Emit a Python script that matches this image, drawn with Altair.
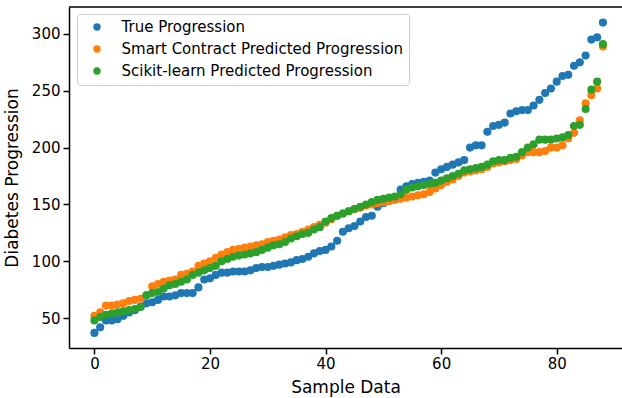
import altair as alt
import pandas as pd

sample_idx = list(range(89))

true_vals = [37, 42, 48, 48, 49, 52, 55, 57, 60, 63,
             64, 66, 69, 69, 70, 72, 72, 72, 77, 84,
             85, 88, 90, 90, 91, 91, 91, 92, 94, 95,
             95, 96, 97, 98, 99, 101, 102, 104, 107, 109,
             110, 113, 118, 126, 129, 131, 135, 139, 140, 148,
             151, 153, 156, 163, 166, 168, 169, 170, 171, 178,
             181, 183, 185, 187, 189, 200, 202, 202, 214, 219,
             220, 222, 230, 232, 233, 233, 237, 242, 248, 252,
             258, 263, 264, 272, 275, 281, 295, 297, 310]

smart_vals = [52, 55, 61, 61, 62, 63, 65, 66, 67, 70,
              78, 80, 82, 83, 84, 88, 89, 91, 96, 98,
              100, 103, 106, 108, 110, 111, 112, 113, 114, 115,
              117, 118, 119, 121, 123, 124, 126, 128, 130, 132,
              134, 137, 140, 142, 144, 146, 147, 149, 150, 151,
              152, 153, 154, 155, 156, 157, 158, 159, 161, 164,
              167, 170, 172, 175, 178, 179, 180, 181, 183, 186,
              187, 188, 189, 190, 193, 196, 196, 196, 197, 200,
              200, 202, 208, 213, 224, 239, 246, 252, 289]

sk_vals = [48, 51, 53, 54, 55, 56, 57, 58, 60, 70,
           72, 73, 76, 79, 80, 82, 84, 88, 90, 92,
           94, 96, 100, 102, 104, 105, 106, 107, 108, 110,
           112, 114, 115, 117, 120, 122, 124, 125, 128, 130,
           135, 138, 140, 142, 144, 146, 148, 150, 152, 154,
           155, 156, 157, 159, 163, 165, 166, 167, 168, 169,
           171, 173, 175, 177, 180, 181, 182, 183, 185, 188,
           189, 189, 191, 192, 196, 200, 203, 207, 207, 207,
           208, 209, 211, 219, 220, 234, 251, 258, 291]

series_names = ["True Progression",
                "Smart Contract Predicted Progression",
                "Scikit-learn Predicted Progression"]
colors = ["#1f77b4", "#ff7f0e", "#2ca02c"]
x_ticks = [0, 20, 40, 60, 80]
y_ticks = [50, 100, 150, 200, 250, 300]

rows = []
for name, vals in zip(series_names, [true_vals, smart_vals, sk_vals]):
    for i, v in zip(sample_idx, vals):
        rows.append({"Sample": i, "Value": v, "Series": name})
df = pd.DataFrame(rows)

W, H = 553, 341
FONT = "DejaVu Sans"

points = alt.Chart(df).mark_circle(size=66, opacity=1).encode(
    x=alt.X("Sample:Q",
            scale=alt.Scale(domain=[-4.4, 91.3], nice=False, zero=False),
            axis=alt.Axis(values=x_ticks, title="Sample Data", labelPadding=2,
                          titlePadding=8, format="d")),
    y=alt.Y("Value:Q",
            scale=alt.Scale(domain=[23.7, 323.7], nice=False, zero=False),
            axis=alt.Axis(values=y_ticks, title="Diabetes Progression",
                          labelPadding=3, titlePadding=10, format="d")),
    color=alt.Color("Series:N",
                    scale=alt.Scale(domain=series_names, range=colors),
                    legend=alt.Legend(orient="none", legendX=8, legendY=7, title=None,
                                      labelFont=FONT, labelFontSize=15, labelColor="black",
                                      labelLimit=500, symbolSize=55, symbolType="circle",
                                      symbolOffset=7, labelOffset=17, rowPadding=6,
                                      padding=5.5, fillColor="rgba(255,255,255,0.8)",
                                      strokeColor="#cccccc", cornerRadius=3,
                                      symbolStrokeWidth=0, symbolOpacity=1)),
)

top_border = alt.Chart(pd.DataFrame({"t": [0]})).mark_rule(
    color="black", strokeWidth=1.5
).encode(x=alt.value(0), x2=alt.value(W), y=alt.value(0))

chart = alt.layer(points, top_border).properties(
    width=W, height=H,
    padding={"left": 69, "top": 7, "right": 0, "bottom": 50},
    autosize=alt.AutoSizeParams(type="none"),
).configure_view(stroke=None).configure_axis(
    domainColor="black", domainWidth=1.5, tickColor="black", tickWidth=1.5,
    tickSize=6, labelFont=FONT, labelFontSize=15, labelColor="black",
    titleFont=FONT, titleFontSize=17, titleFontWeight="normal", titleColor="black",
    grid=False,
)

chart.save("out.html", embed_options={"renderer": "svg", "actions": False})
